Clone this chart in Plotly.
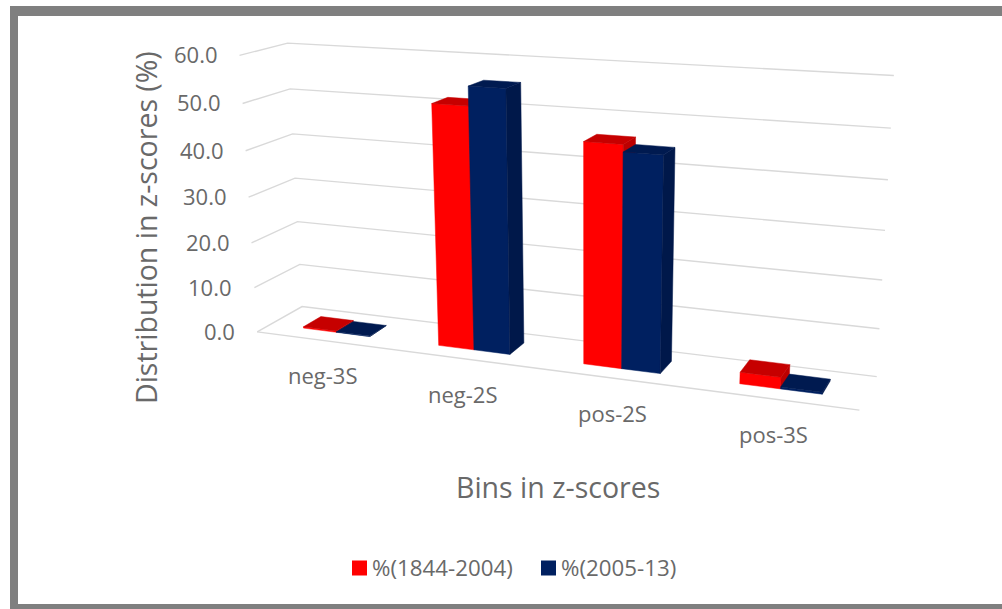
import numpy as np
import plotly.graph_objects as go

categories = ["neg-3S", "neg-2S", "pos-2S", "pos-3S"]
series_a_name = "%(1844-2004)"
series_b_name = "%(2005-13)"
series_a_values = [0.3, 51.5, 46.0, 2.4]
series_b_values = [0.1, 55.5, 44.5, 0.4]
tick_values = [0, 10, 20, 30, 40, 50, 60]
x_title = "Bins in z-scores"
y_title = "Distribution in z-scores (%)"

RED, RED_TOP, RED_SIDE = "#FF0000", "#C60000", "#BC0000"
BLUE, BLUE_TOP, BLUE_SIDE = "#002060", "#001A50", "#00184A"
GRID = "#D9D9D9"
TEXT = "#696969"
FONT = "Open Sans"

# Camera calibration: (category position 0..1, depth 0..1, value) -> page pixel
calib = [
    (0, 0, 0, 257, 333), (0, 1, 0, 302, 306), (1, 1, 0, 877, 378), (1, 0, 0, 860, 411),
    (0, 0, 60, 239, 56), (0, 1, 60, 287, 44), (1, 1, 60, 893, 76),
    (0, 0, 30, 248, 198), (0, 1, 30, 295, 177), (1, 1, 30, 886, 231),
    (.0625, .3, 0, 305, 328), (.1875, .3, 0, 370, 336),
    (.3125, .3, 0, 439, 346), (.4375, .3, 0, 507, 354),
    (.5625, .3, 0, 585, 364), (.6875, .3, 0, 659, 373),
    (.8125, .3, 0, 742, 383), (.9375, .3, 0, 820, 393),
    (.3125, .3, 51.5, 434, 103), (.4375, .3, 55.5, 505, 87),
    (.5625, .3, 46.0, 586, 142), (.6875, .3, 44.5, 662, 154),
]
A = []
for cx, cd, cz, u, v in calib:
    X = [cx, cd, cz / 60, 1]
    u, v = u / 1000, v / 1000
    A.append(X + [0, 0, 0, 0] + [-u * c for c in X])
    A.append([0, 0, 0, 0] + X + [-v * c for c in X])
P = np.linalg.svd(np.array(A, float))[2][-1].reshape(3, 4)


def proj(x, d, z):
    h = P @ np.array([x, d, z / 60, 1.0])
    return 1000 * h[0] / h[2], 1000 * h[1] / h[2]


def poly(points):
    xy = [proj(*p) for p in points]
    xy.append(xy[0])
    return [a for a, _ in xy] + [None], [b for _, b in xy] + [None]


def merge(polys):
    xs, ys = [], []
    for a, b in polys:
        xs += a
        ys += b
    return xs, ys


N = len(categories)
BAR = 1 / (4 * N)           # each bar is a quarter of the category width
D0, D1 = 0.30, 0.70         # bar extent in depth


def faces(values, offset):
    front, side, top = [], [], []
    for i, val in enumerate(values):
        x0 = (i + .5) / N - BAR + offset * BAR
        x1 = x0 + BAR
        front.append(poly([(x0, D0, 0), (x1, D0, 0), (x1, D0, val), (x0, D0, val)]))
        side.append(poly([(x1, D0, 0), (x1, D1, 0), (x1, D1, val), (x1, D0, val)]))
        top.append(poly([(x0, D0, val), (x1, D0, val), (x1, D1, val), (x0, D1, val)]))
    return merge(front), merge(side), merge(top)


fig = go.Figure()


def area(xy, color, name):
    fig.add_trace(go.Scatter(x=xy[0], y=xy[1], mode="lines", fill="toself", fillcolor=color,
                             line=dict(color=color, width=0.5), name=name,
                             hoverinfo="skip", showlegend=False))


# gridlines
gx, gy = [], []
for t in tick_values:
    for p in [(0, 0, t), (0, 1, t), (1, 1, t)]:
        a, b = proj(*p)
        gx.append(a)
        gy.append(b)
    gx.append(None)
    gy.append(None)
for p in [(0, 0, 0), (1, 0, 0)]:
    a, b = proj(*p)
    gx.append(a)
    gy.append(b)
fig.add_trace(go.Scatter(x=gx, y=gy, mode="lines", line=dict(color=GRID, width=1.4),
                         hoverinfo="skip", showlegend=False))

for values, off, cols, nm in [(series_a_values, 0, (RED, RED_SIDE, RED_TOP), series_a_name),
                              (series_b_values, 1, (BLUE, BLUE_SIDE, BLUE_TOP), series_b_name)]:
    f, s, t = faces(values, off)
    area(f, cols[0], nm)
    area(s, cols[1], nm)
    area(t, cols[2], nm)

ann = []


def label(x, y, text, size, angle=0, anchor="center"):
    ann.append(dict(x=x, y=y, xref="x", yref="y", text=text, showarrow=False, textangle=angle,
                    xanchor=anchor, yanchor="middle",
                    font=dict(family=FONT, size=size, color=TEXT)))


for t in tick_values:
    a, b = proj(0, 0, t)
    label(a - 20, b - 1, f"{t:.1f}", 22, anchor="right")
for i, c in enumerate(categories):
    a, b = proj((i + .5) / N, 0, 0)
    label(a, b + 35, c, 22)
label(558, 487, x_title, 28.5)
label(146, 228, y_title, 28.5, angle=-90)

# legend
fig.add_trace(go.Scatter(x=[359.5, 548.5], y=[568, 568], mode="markers", hoverinfo="skip", showlegend=False,
                         marker=dict(symbol="square", size=15, color=[RED, BLUE])))
label(370, 567, series_a_name, 22.3, anchor="left")
label(559, 567, series_b_name, 22.3, anchor="left")


# picture border (left, top and bottom bands only)
def band(x0, y0, x1, y1):
    return dict(type="rect", xref="x", yref="y", fillcolor="#7F7F7F", line=dict(width=0),
                x0=x0, y0=y0, x1=x1, y1=y1)


shapes = [band(10, 6, 1002, 16), band(10, 6, 18, 609), band(10, 604, 1002, 609)]

fig.update_layout(width=1002, height=609, margin=dict(l=0, r=0, t=0, b=0),
                  paper_bgcolor="white", plot_bgcolor="white", showlegend=False,
                  annotations=ann, shapes=shapes,
                  xaxis=dict(range=[0, 1002], visible=False, fixedrange=True),
                  yaxis=dict(range=[609, 0], visible=False, fixedrange=True))
fig.write_html("out.html", config=dict(displayModeBar=False),
               post_script="document.body.style.margin='0';document.body.style.overflow='hidden';")
